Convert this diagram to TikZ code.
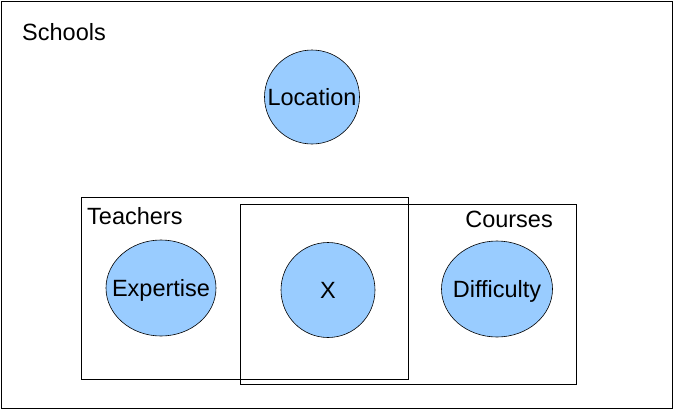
\documentclass[tikz,border=0pt]{standalone}
\usepackage{fontspec}
\setmainfont{Liberation Sans}
\usepackage{tikz}
\usetikzlibrary{shapes.geometric}
\definecolor{varblue}{HTML}{99CCFF}
\tikzset{
  plate/.style={draw, line width=0.8pt},
  var/.style={ellipse, draw, line width=0.6pt, fill=varblue, inner sep=0pt},
  txt/.style={font=\fontsize{23.5}{28}\selectfont, inner sep=0pt, text depth=0pt},
}
\begin{document}
\begin{tikzpicture}[x=1pt,y=-1pt]
\useasboundingbox (0,0) rectangle (674,410);
% plates
\draw[plate] (1,1) rectangle (672,408);
\draw[plate] (81,197) rectangle (408,379);
\draw[plate] (240,204) rectangle (576,384);
\node[txt, anchor=west] (schools) at (22,32) {Schools};
\node[txt, anchor=west] (teachers) at (87,216) {Teachers};
\node[txt, anchor=east] (courses) at (553,219) {Courses};
% variables
\node[var, minimum width=95pt, minimum height=94pt] (location) at (312,97) {};
\node[var, minimum width=110pt, minimum height=96pt] (expertise) at (161,288) {};
\node[var, minimum width=94pt, minimum height=95pt] (x) at (328,290) {};
\node[var, minimum width=111pt, minimum height=96pt] (difficulty) at (497,289) {};
\node[txt] at (location) {Location};
\node[txt] at (expertise) {Expertise};
\node[txt] at (x) {X};
\node[txt] at (difficulty) {Difficulty};
\end{tikzpicture}
\end{document}
